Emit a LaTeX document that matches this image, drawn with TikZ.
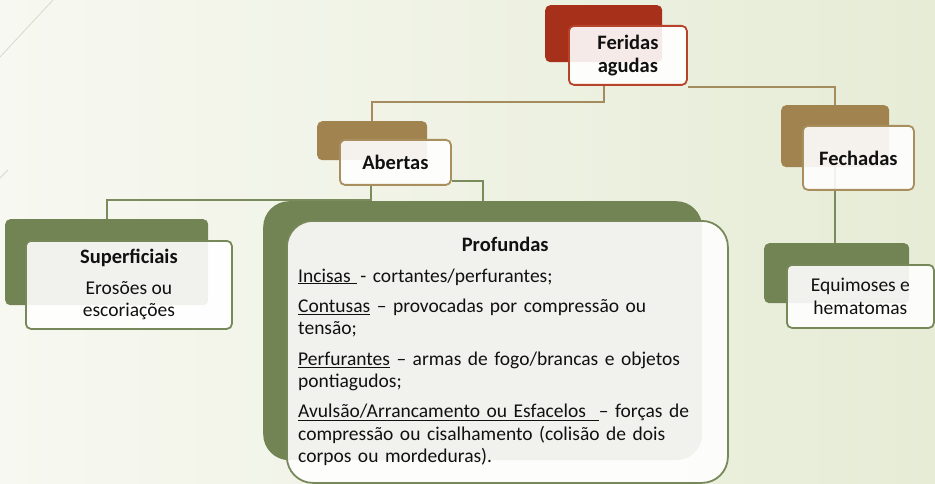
\documentclass[tikz,border=0pt]{standalone}
\usepackage{fontspec}
\setmainfont{Carlito}
\usetikzlibrary{calc}
\pgfdeclarelayer{back}
\pgfdeclarelayer{bg}
\pgfsetlayers{back,bg,main}
\definecolor{redA}{HTML}{A6301A}
\definecolor{redB}{HTML}{B7442A}
\definecolor{brnA}{HTML}{A1834F}
\definecolor{brnB}{HTML}{A98E5E}
\definecolor{grnA}{HTML}{728354}
\definecolor{grnB}{HTML}{77895A}
\definecolor{lnB}{HTML}{A48C5E}
\definecolor{lnG}{HTML}{7A8C5C}
\definecolor{bgL}{HTML}{F7F8F1}
\definecolor{bgR}{HTML}{E6ECD6}
\definecolor{deco}{HTML}{D6D9CC}
\definecolor{txt}{HTML}{111111}
\newcommand{\ttl}[1]{{\fontsize{20.5}{22.5}\selectfont\bfseries #1}}
\begin{document}
\begin{tikzpicture}[x=1pt,y=-1pt,
  box/.style={rectangle, rounded corners=5pt, inner sep=0pt, anchor=north west},
  backR/.style={box, fill=redA},
  backBr/.style={box, fill=brnA},
  backG/.style={box, fill=grnA},
  front/.style={box, fill=white, fill opacity=0.9, text opacity=1, line width=1.8pt, text=txt,
     font=\fontsize{19.5}{22.5}\selectfont, align=center},
  frontR/.style={front, draw=redB},
  frontBr/.style={front, draw=brnB},
  frontG/.style={front, draw=grnB},
  conB/.style={draw=lnB, line width=1.7pt},
  conG/.style={draw=lnG, line width=1.7pt}]
\useasboundingbox (0,0) rectangle (935,484);
\begin{pgfonlayer}{back}
\fill[left color=bgL, right color=bgR] (0,0) rectangle (935,484);
\draw[deco, line width=0.8pt] (0,57) -- (53,0);
\draw[deco, line width=0.8pt] (0,178) -- (8,170);
\end{pgfonlayer}
% Feridas agudas
\node[backR, minimum width=117pt, minimum height=57pt] (fb) at (545,5) {};
\node[frontR, minimum width=118pt, minimum height=59pt] (ff) at (568,25) {\ttl{Feridas}\\\ttl{agudas}};
% Abertas
\node[backBr, minimum width=110pt, minimum height=39pt] (ab) at (317,121) {};
\node[frontBr, minimum width=111pt, minimum height=45pt] (af) at (339,139) {\ttl{Abertas}};
% Fechadas
\node[backBr, minimum width=108pt, minimum height=62pt] (eb) at (781,105) {};
\node[frontBr, minimum width=111pt, minimum height=64pt] (ef) at (802,125) {\ttl{Fechadas}};
% Superficiais
\node[backG, minimum width=203pt, minimum height=86pt] (sb) at (5,219) {};
\node[frontG, minimum width=206pt, minimum height=88pt] (sf) at (25,240) {\ttl{Superficiais}\\[8pt]Erosões ou\\escoriações};
% Equimoses
\node[backG, minimum width=145pt, minimum height=60pt] (qb) at (764,243) {};
\node[frontG, minimum width=147pt, minimum height=63pt] (qf) at (786,264) {Equimoses e\\hematomas};
% Profundas
\node[backG, rounded corners=26pt, minimum width=439pt, minimum height=259pt] (pb) at (263,201) {};
\node[frontG, rounded corners=26pt, minimum width=441pt, minimum height=262pt] (pf) at (286,220) {};
\node[anchor=north west, inner sep=0pt, text width=414pt, text=txt,
      font=\fontsize{19.5}{22.2}\selectfont] (pt) at (298,237)
 {\parindent=0pt\parskip=8.3pt\lineskiplimit=-20pt
  {\centering\ttl{Profundas}\par}
  \raggedright
  \underline{Incisas\ }\,- cortantes/perfurantes;\par
  \underline{Contusas} – provocadas por compressão ou\\tensão;\par
  \underline{Perfurantes} – armas de fogo/brancas e objetos\\pontiagudos;\par
  \underline{Avulsão/Arrancamento ou Esfacelos\ \ }– forças de\\compressão ou cisalhamento (colisão de dois\\corpos ou mordeduras).\par};
% connectors
\begin{pgfonlayer}{bg}
\draw[conB] ([xshift=36pt]ff.south west) -- ++(0,16) -| (ab.north);
\draw[conB] ([yshift=-1pt]ff.south east) -| (eb.north);
\draw[conG] ([xshift=32pt]af.south west) -- ++(0,14) -| (sb.north);
\draw[conG] ([yshift=5pt]af.south east) -| (pb.north);
\draw[conG] (eb.south) -- (eb.south |- qb.north);
\end{pgfonlayer}
\end{tikzpicture}
\end{document}
